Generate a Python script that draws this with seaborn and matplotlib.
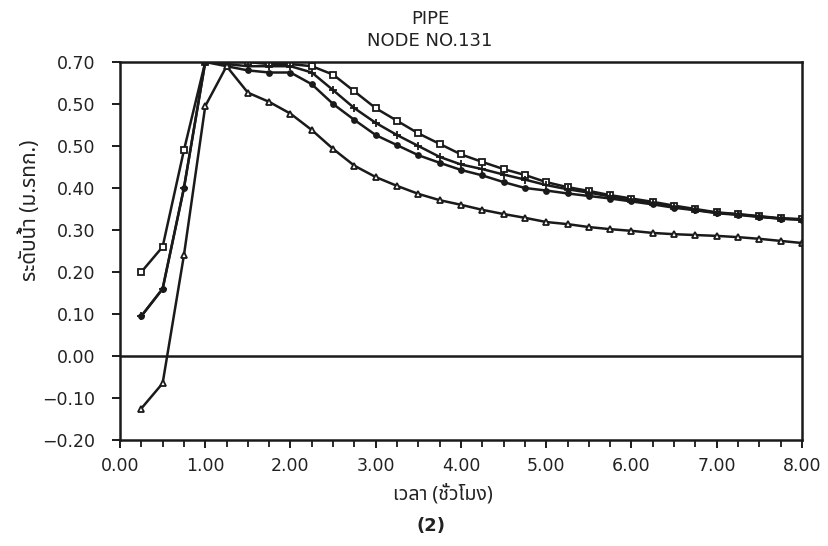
import matplotlib
matplotlib.use("Agg")
import matplotlib.pyplot as plt
import seaborn as sns
import pandas as pd
from matplotlib.ticker import MultipleLocator, FixedLocator, FixedFormatter

# ---- data ----
time_h = [0.25, 0.50, 0.75, 1.00, 1.25, 1.50, 1.75, 2.00, 2.25, 2.50, 2.75, 3.00,
          3.25, 3.50, 3.75, 4.00, 4.25, 4.50, 4.75, 5.00, 5.25, 5.50, 5.75, 6.00,
          6.25, 6.50, 6.75, 7.00, 7.25, 7.50, 7.75, 8.00]

level_square = [0.20, 0.26, 0.49, 0.70, 0.70, 0.70, 0.695, 0.695, 0.69, 0.67, 0.63, 0.59,
                0.56, 0.53, 0.505, 0.48, 0.462, 0.445, 0.431, 0.414, 0.402, 0.393, 0.383, 0.375,
                0.367, 0.358, 0.350, 0.342, 0.338, 0.333, 0.328, 0.326]

level_plus = [0.095, 0.16, 0.40, 0.70, 0.695, 0.69, 0.69, 0.69, 0.675, 0.633, 0.59, 0.555,
              0.526, 0.50, 0.474, 0.456, 0.445, 0.432, 0.42, 0.407, 0.397, 0.389, 0.380, 0.372,
              0.364, 0.355, 0.348, 0.341, 0.337, 0.332, 0.327, 0.325]

level_circle = [0.095, 0.16, 0.40, 0.70, 0.69, 0.68, 0.675, 0.675, 0.647, 0.60, 0.562, 0.526,
                0.502, 0.478, 0.46, 0.443, 0.43, 0.414, 0.40, 0.394, 0.387, 0.381, 0.375, 0.368,
                0.361, 0.353, 0.347, 0.340, 0.336, 0.331, 0.327, 0.324]

level_triangle = [-0.125, -0.065, 0.24, 0.595, 0.69, 0.627, 0.605, 0.577, 0.538, 0.493, 0.453, 0.426,
                  0.405, 0.386, 0.371, 0.360, 0.348, 0.338, 0.329, 0.319, 0.314, 0.307, 0.302, 0.298,
                  0.293, 0.290, 0.288, 0.286, 0.283, 0.279, 0.274, 0.269]

y_ticks = [-0.20, -0.10, 0.00, 0.10, 0.20, 0.30, 0.40, 0.50, 0.60, 0.70]
y_tick_labels = ["\u22120.20", "\u22120.10", "0.00", "0.10", "0.20", "0.30", "0.40", "0.50", "0.50", "0.70"]
x_ticks = [0, 1, 2, 3, 4, 5, 6, 7, 8]
x_tick_labels = ["0.00", "1.00", "2.00", "3.00", "4.00", "5.00", "6.00", "7.00", "8.00"]

title_lines = "PIPE\nNODE NO.131"
xlabel = "เวลา (ชั่วโมง)"
ylabel = "ระดับน้ำ (ม.รทก.)"
caption = "(2)"

sns.set_theme(style="white")
plt.rcParams["font.family"] = ["DejaVu Sans", "Noto Sans", "Noto Sans CJK SC"]
thai_fonts = ["Noto Sans Thai", "Loma", "Garuda", "Norasi", "TH Sarabun New", "Tlwgtypo",
              "Waree", "Kinnari", "DejaVu Sans"]

W, H = 829, 546
fig = plt.figure(figsize=(W / 100, H / 100), dpi=100)
ax = fig.add_axes([120 / W, 1 - 440 / H, (802 - 120) / W, (440 - 62) / H])

ink = "#1a1a1a"
series = [
    (level_square, "s", "white", 4.8),
    (level_plus, "+", ink, 5.5),
    (level_circle, "o", ink, 3.6),
    (level_triangle, "^", "white", 5.0),
]
for vals, mk, fc, ms in series:
    df = pd.DataFrame({"t": time_h, "v": vals})
    sns.lineplot(data=df, x="t", y="v", ax=ax, color=ink, lw=1.8,
                 marker=mk, markersize=ms, markerfacecolor=fc,
                 markeredgecolor=ink, markeredgewidth=1.3)

ax.axhline(0.0, color=ink, lw=1.8)

ax.set_xlim(0, 8)
ax.set_ylim(-0.20, 0.70)
ax.xaxis.set_major_locator(FixedLocator(x_ticks))
ax.xaxis.set_major_formatter(FixedFormatter(x_tick_labels))
ax.xaxis.set_minor_locator(MultipleLocator(0.25))
ax.yaxis.set_major_locator(FixedLocator(y_ticks))
ax.yaxis.set_major_formatter(FixedFormatter(y_tick_labels))

ax.tick_params(axis="both", which="major", direction="out", length=6, width=1.4,
               color=ink, labelsize=12.5, labelcolor="#222222", left=True, bottom=True)
ax.tick_params(axis="x", which="minor", direction="out", length=5, width=1.3,
               color=ink, bottom=True)
ax.tick_params(axis="x", which="major", pad=6)
ax.tick_params(axis="y", which="major", pad=12)
for sp in ax.spines.values():
    sp.set_visible(True)
    sp.set_color(ink)
    sp.set_linewidth(1.8)

ax.set_xlabel("")
ax.set_ylabel("")
fig.text(443 / W, 1 - 494 / H, xlabel, ha="center", va="center",
         fontsize=14, family=thai_fonts, color="#222222")
fig.text(30 / W, 1 - 210 / H, ylabel, ha="center", va="center", rotation=90,
         fontsize=15, family=thai_fonts, color="#222222")

fig.text(430 / W, 1 - 30 / H, title_lines, ha="center", va="center",
         fontsize=13, color="#222222", linespacing=1.3)
fig.text(431 / W, 1 - 526 / H, caption, ha="center", va="center",
         fontsize=13, color="#222222", fontweight="bold")

fig.savefig("out.png", dpi=100, facecolor="white")
